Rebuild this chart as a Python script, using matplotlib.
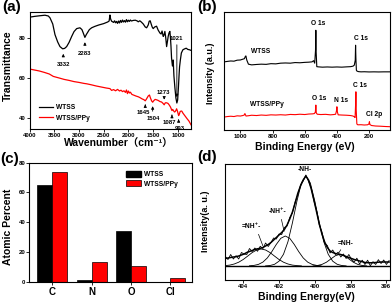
import matplotlib.pyplot as plt
from matplotlib.patches import Patch

plt.rcParams['font.family'] = ['Liberation Sans', 'DejaVu Sans', 'Noto Sans CJK SC']
plt.rcParams['font.weight'] = 'bold'
plt.rcParams['axes.linewidth'] = 0.8

# ---- (a) FTIR ----
ir_wn = [4000, 3900, 3800, 3687, 3620, 3586, 3530, 3485, 3430, 3384, 3330, 3290, 3249, 3200, 3147,
         3100, 3046, 2980, 2940, 2913, 2880, 2850, 2832, 2790, 2744, 2680, 2600, 2500, 2420, 2390,
         2374, 2360, 2340, 2300, 2280, 2260, 2240, 2220, 2200, 2180, 2160, 2140, 2120, 2100, 2080,
         2060, 2040, 2020, 2000, 1980, 1960, 1940, 1900, 1860, 1820, 1802, 1770, 1740, 1700, 1660,
         1632, 1600, 1580, 1560, 1540, 1520, 1499, 1470, 1431, 1400, 1364, 1340, 1320, 1297, 1280,
         1263, 1245, 1228, 1210, 1196, 1180, 1162, 1150, 1140, 1128, 1110, 1095, 1080, 1060, 1040,
         1021, 1005, 990, 975, 966, 950, 930, 899, 870, 832, 800, 764, 735]
ir_wtss = [90.4, 90.8, 91.1, 91.4, 91.0, 90.1, 87.0, 81.7, 78.0, 75.7, 74.6, 74.8, 75.7, 77.8, 80.8,
           83.2, 84.7, 85.1, 84.2, 82.5, 80.3, 81.8, 82.5, 84.2, 85.1, 85.8, 86.5, 87.2, 88.0, 88.5,
           91.5, 89.5, 88.4, 87.8, 88.6, 87.6, 88.3, 87.3, 88.5, 87.5, 88.8, 87.8, 89.0, 88.0, 88.7,
           87.9, 89.2, 88.1, 88.9, 88.3, 89.0, 88.5, 88.8, 88.9, 88.5, 88.1, 88.6, 88.0, 87.0, 85.5,
           85.1, 86.5, 88.4, 88.6, 87.0, 85.5, 84.7, 85.5, 85.9, 84.0, 82.5, 82.0, 83.5, 80.8, 81.5,
           83.3, 80.0, 75.7, 78.5, 80.8, 82.5, 83.3, 80.0, 76.0, 69.9, 66.0, 69.0, 61.0, 55.0, 50.0,
           47.5, 49.0, 55.0, 62.0, 65.6, 69.0, 72.5, 74.1, 74.5, 74.9, 74.3, 74.1, 73.8]

ppy_wn = [4000, 3900, 3800, 3700, 3600, 3519, 3400, 3300, 3200, 3100, 3000, 2900, 2844, 2750, 2650,
          2550, 2450, 2374, 2340, 2300, 2260, 2220, 2180, 2150, 2120, 2090, 2060, 2040, 2020, 2000,
          1980, 1960, 1930, 1900, 1850, 1800, 1768, 1720, 1690, 1660, 1640, 1600, 1575, 1555, 1530,
          1510, 1490, 1460, 1431, 1400, 1360, 1330, 1300, 1277, 1255, 1228, 1200, 1175, 1150, 1120,
          1105, 1087, 1070, 1055, 1040, 1026, 1010, 985, 970, 955, 935, 920, 900, 870, 840, 810,
          780, 750, 735]
ir_ppy = [64.5, 64.0, 63.5, 62.8, 62.0, 60.8, 60.0, 59.3, 58.8, 58.2, 57.8, 57.3, 57.1, 56.6, 56.0,
          55.5, 55.0, 54.7, 53.8, 54.2, 53.6, 54.3, 53.5, 53.9, 53.2, 53.6, 52.8, 54.0, 52.2, 53.5,
          52.5, 52.9, 51.8, 51.5, 51.0, 50.6, 50.2, 49.5, 49.2, 48.6, 49.3, 51.0, 51.5, 50.0, 48.5,
          47.9, 48.6, 49.3, 49.1, 48.8, 48.2, 48.0, 47.3, 46.6, 47.6, 47.6, 47.3, 46.5, 45.5, 43.7,
          44.3, 43.6, 43.0, 43.2, 43.8, 44.6, 43.5, 41.2, 42.0, 43.2, 43.5, 43.4, 42.5, 41.5, 40.5,
          39.5, 38.6, 37.3, 36.6]

# ---- (b) XPS survey ----
xps_be = [1100, 1080, 1060, 1040, 1020, 1000, 985, 975, 970, 966, 960, 950, 930, 900, 870, 840,
          810, 780, 750, 720, 690, 660, 630, 600, 575, 555, 545, 538, 533, 531, 529, 525, 515, 490,
          460, 430, 400, 370, 340, 315, 300, 292, 286, 284, 282, 279, 275, 265, 250, 230, 200, 170,
          140, 110, 70]
xps_wtss = [78.3, 78.8, 79.2, 79.0, 80.0, 80.2, 81.0, 81.5, 83.5, 84.3, 80.0, 76.0, 75.3, 75.7,
            76.0, 75.8, 76.5, 76.3, 77.0, 77.2, 77.0, 77.6, 77.4, 77.8, 78.0, 78.3, 79.5, 77.0,
            90.0, 110.0, 88.0, 73.5, 73.3, 73.0, 73.2, 73.0, 73.2, 73.0, 73.3, 73.5, 74.0, 75.0,
            80.0, 95.0, 82.0, 70.0, 69.0, 68.5, 68.3, 68.4, 68.2, 68.3, 68.2, 68.3, 68.3]
xps_be2 = [1100, 1080, 1060, 1040, 1020, 1000, 985, 976, 972, 965, 950, 930, 900, 870, 840, 810,
           780, 750, 720, 690, 660, 630, 600, 575, 550, 540, 534, 531, 528, 522, 500, 470, 440,
           420, 408, 403, 400, 397, 392, 370, 340, 315, 300, 292, 287, 284, 282, 280, 276, 270,
           250, 230, 210, 201, 198, 195, 185, 160, 130, 100, 70]
xps_ppy = [23.0, 23.5, 23.8, 23.5, 24.2, 24.0, 24.5, 25.0, 26.5, 24.0, 24.3, 24.8, 24.5, 25.0,
           24.7, 25.2, 25.0, 25.3, 25.0, 25.6, 25.4, 25.8, 25.5, 26.0, 26.2, 26.5, 28.0, 35.0,
           27.0, 25.8, 25.5, 25.7, 25.2, 25.5, 25.8, 29.0, 33.3, 28.0, 25.2, 25.0, 24.8, 24.5,
           24.0, 23.3, 22.5, 35.0, 48.3, 30.0, 16.0, 15.2, 15.3, 15.0, 15.2, 16.0, 18.3, 15.5,
           14.5, 14.0, 13.8, 13.5, 13.3]

# ---- (c) atomic percent ----
elements = ['C', 'N', 'O', 'Cl']
pct_wtss = [65, 1.1, 34, 0]
pct_ppy = [73.7, 13.2, 10.3, 2.5]

# ---- (d) N 1s ----
n1s_be = [405.0, 404.85, 404.7, 404.55, 404.4, 404.25, 404.1, 403.95, 403.8, 403.65, 403.5,
          403.35, 403.2, 403.05, 402.9, 402.75, 402.6, 402.45, 402.3, 402.15, 402.0, 401.85,
          401.7, 401.55, 401.4, 401.25, 401.1, 400.95, 400.8, 400.65, 400.5, 400.35, 400.2,
          400.05, 399.9, 399.75, 399.6, 399.45, 399.3, 399.15, 399.0, 398.85, 398.7, 398.55,
          398.4, 398.25, 398.1, 397.95, 397.8, 397.65, 397.5, 397.35, 397.2, 397.05, 396.9,
          396.75, 396.6, 396.45, 396.3, 396.15, 396.0, 395.85]
n1s_raw = [23.5, 20.5, 25.5, 21.0, 24.3, 21.0, 27.5, 26.0, 25.5, 31.5, 28.5, 32.0, 28.7, 33.7,
           31.5, 37.0, 33.5, 37.5, 42.0, 41.0, 46.0, 45.5, 52.5, 54.0, 62.5, 67.0, 78.0, 85.2,
           95.0, 99.0, 105.0, 98.5, 92.0, 79.0, 69.5, 55.0, 48.0, 36.5, 34.5, 27.0, 30.0, 25.5,
           27.8, 23.0, 26.0, 21.5, 25.5, 20.5, 18.0, 21.8, 16.0, 19.8, 15.5, 19.8, 14.2, 18.3,
           15.5, 20.3, 16.5, 20.0, 15.5, 19.5]
n1s_fit = [21.5, 22.0, 22.5, 23.0, 23.3, 24.0, 25.0, 26.0, 27.5, 28.5, 29.5, 30.5, 31.2, 31.7,
           32.5, 34.0, 35.5, 37.5, 40.0, 42.5, 45.0, 47.5, 50.5, 55.0, 61.0, 68.0, 77.0, 86.7,
           94.0, 100.0, 104.0, 100.0, 91.0, 80.0, 68.0, 56.0, 46.0, 38.0, 32.5, 29.0, 27.5, 26.5,
           25.8, 25.5, 24.5, 23.5, 22.5, 21.5, 20.5, 19.8, 19.0, 18.3, 17.5, 17.3, 17.2, 17.3,
           17.5, 17.8, 18.0, 18.0, 18.0, 18.0]
pk1_be = [405.0, 404.75, 404.5, 404.25, 404.0, 403.75, 403.5, 403.25, 403.0, 402.75, 402.5,
          402.25, 402.0, 401.75, 401.5, 401.25, 401.0, 400.75]
pk1_y = [14.4, 14.9, 16.0, 17.8, 20.5, 23.9, 27.4, 30.0, 31.0, 30.0, 27.4, 23.9, 20.5, 17.8,
         16.0, 14.9, 14.4, 14.1]
pk2_be = [403.65, 403.4, 403.15, 402.9, 402.65, 402.4, 402.15, 401.9, 401.65, 401.4, 401.15,
          400.9, 400.65, 400.4, 400.15, 399.9, 399.65]
pk2_y = [14.2, 14.6, 15.6, 17.9, 22.1, 28.4, 35.6, 41.7, 44.0, 41.7, 35.6, 28.4, 22.1, 17.9,
         15.6, 14.6, 14.2]
pk3_be = [402.75, 402.5, 402.25, 402.0, 401.75, 401.5, 401.25, 401.0, 400.75, 400.5, 400.25,
          400.0, 399.75, 399.5, 399.25, 399.0, 398.75, 398.5, 398.25]
pk3_y = [14.1, 14.5, 15.7, 18.8, 25.7, 38.3, 57.2, 78.8, 97.0, 104.0, 97.0, 78.8, 57.2, 38.3,
         25.7, 18.8, 15.7, 14.5, 14.1]
pk4_be = [400.1, 399.85, 399.6, 399.35, 399.1, 398.85, 398.6, 398.35, 398.1, 397.85, 397.6,
          397.35, 397.1]
pk4_y = [14.1, 14.5, 15.6, 17.8, 21.1, 24.3, 25.7, 24.3, 21.1, 17.8, 15.6, 14.5, 14.1]
n1s_base = 14

W, H = 392, 305
fig = plt.figure(figsize=(W / 100, H / 100), dpi=100)


def rect(l, t, r, b):
    return [l / W, 1 - b / H, (r - l) / W, (b - t) / H]


def ftext(x, y, s, **kw):
    fig.text(x / W, 1 - y / H, s, ha='center', va='center', **kw)


def style(ax):
    ax.tick_params(direction='out', length=2, width=0.6, labelsize=4.3, pad=1)


# (a)
ax = fig.add_axes(rect(29.5, 12, 191, 129))
ax.plot(ir_wn, ir_wtss, color='black', lw=0.9, label='WTSS')
ax.plot(ppy_wn, ir_ppy, color='red', lw=0.9, label='WTSS/PPy')
ax.set_xlim(4000, 735)
ax.set_ylim(34.5, 93)
ax.set_xticks([4000, 3500, 3000, 2500, 2000, 1500, 1000])
ax.set_yticks([40, 60, 80])
style(ax)
ap = dict(arrowstyle='-|>', color='black', lw=0.6, mutation_scale=4)
ann = [('3332', (3317, 66.5), (3317, 69.3), (3317, 73.5)),
       ('2283', (2880, 72.4), (2880, 75.5), (2880, 79.3)),
       ('1021', (1021, 80.0), (1021, 78.0), (1021, 49.0)),
       ('1273', (1290, 53.0), (1277, 51.5), (1277, 47.8)),
       ('1645', (1700, 42.6), (1660, 44.9), (1660, 48.2)),
       ('1504', (1490, 39.6), (1510, 42.0), (1510, 47.3)),
       ('1087', (1175, 38.0), (1120, 40.0), (1120, 43.0)),
       ('993', (970, 35.0), (985, 37.3), (985, 40.8))]
for s, tp, a0, a1 in ann:
    ax.text(tp[0], tp[1], s, fontsize=4.3, ha='center', va='center')
    ax.annotate('', xy=a1, xytext=a0, arrowprops=ap)
ax.legend(loc='lower left', bbox_to_anchor=(0.02, 0.01), frameon=False, fontsize=4.8,
          handlelength=2.2, labelspacing=0.5, handletextpad=0.4)

# (b)
ax = fig.add_axes(rect(224.3, 12.3, 390, 130))
ax.plot(xps_be, xps_wtss, color='black', lw=0.8)
ax.plot(xps_be2, xps_ppy, color='red', lw=0.8)
ax.set_xlim(1100, 70)
ax.set_ylim(10, 128)
ax.set_xticks([1000, 800, 600, 400, 200])
ax.set_yticks([])
style(ax)
for s, x, y in [('O 1s', 514, 116.7), ('C 1s', 251, 101.7), ('WTSS', 876, 88.3),
                ('O 1s', 510, 41.7), ('N 1s', 374, 39.3), ('C 1s', 256, 55),
                ('Cl 2p', 169, 26), ('WTSS/PPy', 834, 36)]:
    ax.text(x, y, s, fontsize=4.8, ha='center', va='center')

# (c)
ax = fig.add_axes(rect(29.3, 162.7, 192, 281.7))
pos = list(range(len(elements)))
ax.bar([p - 0.19 for p in pos], pct_wtss, width=0.38, color='black', edgecolor='black', lw=0.5)
ax.bar([p + 0.19 for p in pos], pct_ppy, width=0.38, color='red', edgecolor='black', lw=0.5)
ax.set_xlim(-0.58, 3.55)
ax.set_ylim(0, 80)
ax.set_yticks([0, 20, 40, 60, 80])
ax.set_xticks(pos)
ax.set_xticklabels(elements)
style(ax)
ax.tick_params(axis='x', labelsize=7, length=2, pad=2)
ax.legend(handles=[Patch(facecolor='black', edgecolor='black', label='WTSS'),
                   Patch(facecolor='red', edgecolor='black', lw=0.5, label='WTSS/PPy')],
          loc='upper left', bbox_to_anchor=(0.56, 0.98), frameon=False, fontsize=4.8,
          handlelength=2.2, handleheight=1.0, labelspacing=0.3, handletextpad=0.4)

# (d)
ax = fig.add_axes(rect(225.3, 164, 390, 280))
ax.plot(n1s_be, n1s_raw, color='black', lw=0.6)
ax.plot(n1s_be, n1s_fit, color='black', lw=1.1)
for xs, ys in [(pk1_be, pk1_y), (pk2_be, pk2_y), (pk3_be, pk3_y), (pk4_be, pk4_y)]:
    ax.plot(xs, ys, color='black', lw=0.6)
ax.axhline(n1s_base, color='black', lw=1.0)
ax.set_xlim(405, 395.8)
ax.set_ylim(0, 116)
ax.set_xticks([404, 402, 400, 398, 396])
ax.set_yticks([])
style(ax)
ax.text(400.53, 110.7, '-NH-', fontsize=4.8, ha='center', va='center')
ax.text(402.08, 68.3, '-NH⁺-', fontsize=4.8, ha='center', va='center')
ax.text(403.54, 53.3, '=NH⁺-', fontsize=4.8, ha='center', va='center')
ax.text(398.3, 36.7, '=NH-', fontsize=4.8, ha='center', va='center')
ln = dict(arrowstyle='-', color='black', lw=0.5)
ax.annotate('', xy=(402.85, 31.7), xytext=(403.2, 48.3), arrowprops=ln)
ax.annotate('', xy=(401.68, 46), xytext=(401.9, 63.3), arrowprops=ln)
ax.annotate('', xy=(398.73, 25), xytext=(398.47, 32.7), arrowprops=ln)

# axis titles and panel letters
ftext(119, 144, 'Wavenumber（cm⁻¹）', fontsize=7.5)
ftext(8, 66, 'Transmittance', fontsize=7.5, rotation=90)
ftext(305, 147, 'Binding Energy (eV)', fontsize=7.5)
ftext(211, 73, 'Intensity (a.u.)', fontsize=6.5, rotation=90)
ftext(8, 227, 'Atomic Percent', fontsize=7.5, rotation=90)
ftext(306, 297, 'Binding Energy(eV)', fontsize=7.5)
ftext(206, 221, 'Intensity(a. u.)', fontsize=6.5, rotation=90)
ftext(12, 7, '(a)', fontsize=11)
ftext(207, 7.5, '(b)', fontsize=11)
ftext(10, 159, '(c)', fontsize=11)
ftext(207, 157, '(d)', fontsize=11)

fig.savefig('out.png', dpi=100)
